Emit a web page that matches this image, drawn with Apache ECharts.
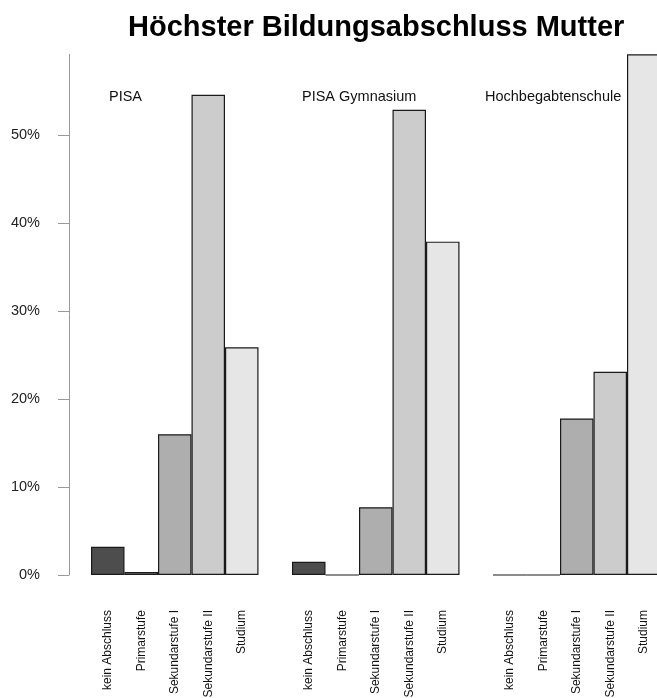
<!DOCTYPE html>
<html>
<head>
<meta charset="utf-8">
<script src="https://cdn.jsdelivr.net/npm/echarts@6/dist/echarts.min.js"></script>
<style>html,body{margin:0;padding:0;background:#fff;overflow:hidden}#c{width:657px;height:698px}</style>
</head>
<body>
<div id="c"></div>
<script>
const title = 'Höchster Bildungsabschluss Mutter';
const categories = ['kein Abschluss', 'Primarstufe', 'Sekundarstufe I', 'Sekundarstufe II', 'Studium'];
const groups = ['PISA', 'PISA Gymnasium', 'Hochbegabtenschule'];
const valuesPISA = [3.2, 0.34, 16.0, 54.6, 25.9];
const valuesGymnasium = [1.5, 0, 7.7, 52.9, 37.9];
const valuesHochbegabt = [0, 0, 17.8, 23.1, 59.2];
const yTicks = [0, 10, 20, 30, 40, 50];
const yMax = 59.2;

const palette = ['#4D4D4D', '#878787', '#AEAEAE', '#CCCCCC', '#E6E6E6'];
const groupValues = [valuesPISA, valuesGymnasium, valuesHochbegabt];

const axisCats = [];
const seriesData = [];
groupValues.forEach((vals, g) => {
  vals.forEach((v, i) => {
    axisCats.push(categories[i]);
    seriesData.push({ value: v, itemStyle: { color: palette[i] } });
  });
  if (g < groupValues.length - 1) {
    axisCats.push('');
    seriesData.push('-');
  }
});

const font = 'Liberation Sans, Arial, Helvetica, sans-serif';
const chart = echarts.init(document.getElementById('c'), null, { renderer: 'canvas' });
const groupTextX = [109, 302, 485];

chart.setOption({
  animation: false,
  title: {
    text: title,
    left: 123, top: 8,
    textStyle: { fontFamily: font, fontSize: 29, fontWeight: 'bold', color: '#000' }
  },
  grid: { left: 91, top: 54.3, width: 569.5, bottom: 123, containLabel: false, outerBoundsMode: 'none' },
  xAxis: {
    type: 'category',
    data: axisCats,
    boundaryGap: true,
    axisLine: { show: false },
    axisTick: { show: false },
    axisLabel: { rotate: 90, margin: 35, fontSize: 12, fontFamily: font, color: '#111', interval: 0 }
  },
  yAxis: {
    type: 'value',
    min: 0, max: yMax,
    offset: 22,
    splitLine: { show: false },
    axisLine: { show: true, lineStyle: { color: '#999', width: 1 } },
    axisTick: { show: true, length: 11, lineStyle: { color: '#999', width: 1 }, customValues: yTicks },
    axisLabel: { margin: 29, fontSize: 14.5, fontFamily: font, color: '#222', customValues: yTicks,
      formatter: v => v + '%' }
  },
  graphic: groups.map((g, i) => ({
    type: 'text', left: groupTextX[i], top: 89,
    style: { text: g, font: '14.5px ' + font, fill: '#111' }
  })),
  series: [{
    type: 'bar',
    data: seriesData,
    barWidth: '100%',
    barGap: '0%',
    itemStyle: { borderColor: '#1a1a1a', borderWidth: 1.2 }
  }]
});
</script>
</body>
</html>
